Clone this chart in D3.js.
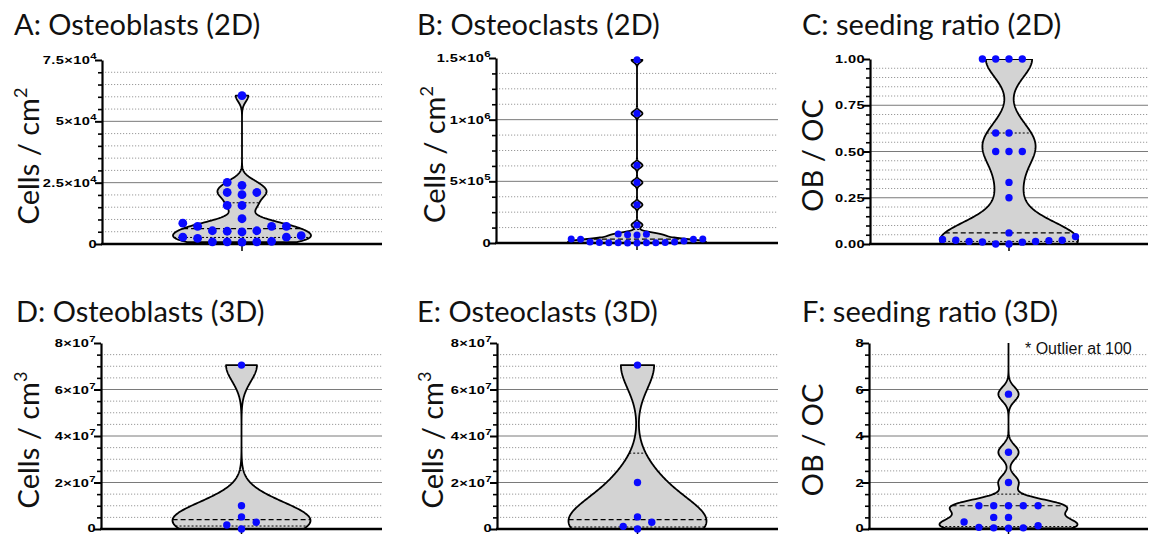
<!DOCTYPE html>
<html>
<head>
<meta charset="utf-8">
<script src="https://cdn.jsdelivr.net/npm/d3@7"></script>
<style>
  body { margin: 0; background: #fff; }
  svg { display: block; }
</style>
</head>
<body>
<svg id="chart" width="1155" height="534"></svg>
<script>
// ---- values ----
const obs2D = [800, 900, 900, 900, 1100, 2300, 2800, 2800, 3400, 4900, 5200, 5400, 5400,
  7200, 7200, 7200, 8500, 10300, 15700, 15700, 20100, 21000, 21000, 23900, 25100, 60500];
const ocs2D = [500, 1000, 1500, 2000, 2500, 3000, 3500, 4000, 8000, 9000, 16000, 30000, 31000,
  32000, 33000, 65000, 66000, 70000, 73000, 146000, 310000, 490000, 630000, 1050000, 1485000];
const ratio2D = [0, 0, 0.01, 0.011, 0.014, 0.014, 0.018, 0.02, 0.02, 0.025, 0.04, 0.06,
  0.25, 0.333, 0.5, 0.5, 0.5, 0.6, 0.6, 1, 1, 1, 1];
const obs3D = [0, 1.7e6, 2.9e6, 5.2e6, 1.0e7, 7.05e7];
const ocs3D = [0, 1.15e6, 2.9e6, 5.2e6, 2.0e7, 7.05e7];
const ratio3D = [0.03, 0.05, 0.05, 0.07, 0.14, 0.3, 0.5, 0.5, 1, 1, 1, 1, 1, 2, 3.3, 5.8, 100];

const titles = ["A: Osteoblasts (2D)", "B: Osteoclasts (2D)", "C: seeding ratio (2D)",
  "D: Osteoblasts (3D)", "E: Osteoclasts (3D)", "F: seeding ratio (3D)"];
const yTitles = [["Cells / cm", "2"], ["Cells / cm", "2"], ["OB / OC", ""],
  ["Cells / cm", "3"], ["Cells / cm", "3"], ["OB / OC", ""]];

const ticksA = [0, 25000, 50000, 75000];
const tickLabelsA = ["0", "2.5×10^4", "5×10^4", "7.5×10^4"];
const ticksB = [0, 500000, 1000000, 1500000];
const tickLabelsB = ["0", "5×10^5", "1×10^6", "1.5×10^6"];
const ticksC = [0, 0.25, 0.5, 0.75, 1];
const tickLabelsC = ["0.00", "0.25", "0.50", "0.75", "1.00"];
const ticks3D = [0, 2e7, 4e7, 6e7, 8e7];
const tickLabels3D = ["0", "2×10^7", "4×10^7", "6×10^7", "8×10^7"];
const ticksF = [0, 2, 4, 6, 8];
const tickLabelsF = ["0", "2", "4", "6", "8"];
const minorSteps = [5000, 125000, 0.05, 5e6, 5e6, 0.5];
const bandwidths = [2500, 20000, 0.1, 7e6, 1e7, 0.3];
const outlierNote = "* Outlier at 100";

// ---- layout ----
const FONT_T = "Lato, 'Open Sans', sans-serif";
const FONT_N = "'Liberation Sans', Arial, sans-serif";
const HALF_W = 69;
const LABEL_STRETCH = 1.33;

const panels = [
  {data: obs2D, ticks: ticksA, labels: tickLabelsA, left: 102, right: 382, top: 60, bottom: 244, tx: 14, ty: 35, lx: 39, r: 4.4, slot: 14.8},
  {data: ocs2D, ticks: ticksB, labels: tickLabelsB, left: 496, right: 778, top: 58, bottom: 243, tx: 417, ty: 35, lx: 445, r: 3.5, slot: 9.4},
  {data: ratio2D, ticks: ticksC, labels: tickLabelsC, left: 870, right: 1148, top: 59, bottom: 244, tx: 802, ty: 35, lx: 823, r: 3.7, slot: 13.3},
  {data: obs3D, ticks: ticks3D, labels: tickLabels3D, left: 101, right: 382, top: 343, bottom: 529, tx: 16, ty: 322, lx: 39, r: 3.7, slot: 14.7},
  {data: ocs3D, ticks: ticks3D, labels: tickLabels3D, left: 497, right: 778, top: 343, bottom: 529, tx: 417, ty: 322, lx: 443, r: 3.7, slot: 14.3},
  {data: ratio3D, ticks: ticksF, labels: tickLabelsF, left: 869, right: 1148, top: 343, bottom: 529, tx: 802, ty: 322, lx: 823, r: 3.7, slot: 14.8}
];

const svg = d3.select("#chart");

// prism style quartiles: position p*(n+1)
function quart(sorted, p) {
  const pos = p * (sorted.length + 1) - 1;
  const lo = Math.max(0, Math.min(sorted.length - 1, Math.floor(pos)));
  const hi = Math.min(sorted.length - 1, lo + 1);
  const f = Math.max(0, Math.min(1, pos - lo));
  return sorted[lo] + f * (sorted[hi] - sorted[lo]);
}

function density(values, bw) {
  return t => d3.sum(values, v => Math.exp(-0.5 * ((t - v) / bw) ** 2));
}

function writeLabel(sel, str) {
  const parts = str.split("^");
  sel.text(null);
  sel.append("tspan").text(parts[0]);
  if (parts[1]) sel.append("tspan").attr("dy", -5).attr("font-size", 8.5).text(parts[1]);
}

panels.forEach((p, idx) => {
  const g = svg.append("g");
  const sorted = p.data.slice().sort((a, b) => a - b);
  const maxV = p.ticks[p.ticks.length - 1];
  const y = d3.scaleLinear().domain([0, maxV]).range([p.bottom, p.top]);
  const x = d3.scaleBand().domain(["group"]).range([p.left, p.right]);
  const cx = x("group") + x.bandwidth() / 2;

  // minor values
  const step = minorSteps[idx];
  const nMinor = Math.round(maxV / step);
  const minors = d3.range(1, nMinor).map(i => +(i * step).toPrecision(10))
    .filter(v => !p.ticks.some(t => Math.abs(t - v) < step / 100));

  // grid
  g.append("g").selectAll("line").data(minors).join("line")
    .attr("x1", p.left).attr("x2", p.right)
    .attr("y1", d => y(d)).attr("y2", d => y(d))
    .attr("stroke", "#9a9a9a").attr("stroke-width", 1).attr("stroke-dasharray", "1.2,1.8");
  g.append("g").selectAll("line").data(p.ticks.filter(t => t > 0 && t < maxV)).join("line")
    .attr("x1", p.left).attr("x2", p.right)
    .attr("y1", d => y(d)).attr("y2", d => y(d))
    .attr("stroke", "#7a7a7a").attr("stroke-width", 1);

  // violin
  const bw = bandwidths[idx];
  const dens = density(p.data, bw);
  const lo = sorted[0], hi = sorted[sorted.length - 1];
  const st = Math.min(bw / 10, (hi - lo) / 200);
  const grid = d3.range(lo, hi, st).concat([hi]).map(t => [t, dens(t)]);
  const w = d3.scaleLinear().domain([0, d3.max(grid, d => d[1])]).range([0, HALF_W]);

  const clipId = "clip" + idx;
  g.append("clipPath").attr("id", clipId).append("rect")
    .attr("x", p.left).attr("y", p.top).attr("width", p.right - p.left).attr("height", p.bottom - p.top + 4);

  const area = d3.area()
    .x0(d => cx - w(d[1])).x1(d => cx + w(d[1]))
    .y(d => y(d[0]));
  const vg = g.append("g").attr("clip-path", `url(#${clipId})`);
  vg.append("path").attr("d", area(grid))
    .attr("fill", "#d3d3d3").attr("stroke", "#000").attr("stroke-width", 1.8)
    .attr("stroke-linejoin", "round");

  [[0.25, "2,2"], [0.5, "5,3"], [0.75, "2,2"]].forEach(([q, dash]) => {
    const v = quart(sorted, q);
    const hw = w(dens(v));
    vg.append("line")
      .attr("x1", cx - hw).attr("x2", cx + hw).attr("y1", y(v)).attr("y2", y(v))
      .attr("stroke", "#000").attr("stroke-width", q === 0.5 ? 1.2 : 1)
      .attr("stroke-dasharray", dash);
  });

  // axes
  const yAxis = d3.axisLeft(y).tickValues(p.ticks).tickSize(7).tickSizeOuter(0).tickPadding(2);
  const ag = g.append("g").attr("transform", `translate(${p.left},0)`).call(yAxis);
  ag.select(".domain").attr("stroke-width", 2.2);
  ag.selectAll(".tick line").attr("stroke-width", 2);
  ag.selectAll(".tick text")
    .attr("font-family", FONT_N).attr("font-weight", "bold").attr("font-size", 11)
    .attr("letter-spacing", 0.3).attr("fill", "#000")
    .attr("x", -5 / LABEL_STRETCH)
    .attr("dy", d => (p.bottom > 500 && d === 0) ? "0.22em" : "0.32em")
    .attr("transform", `scale(${LABEL_STRETCH},1)`)
    .each(function(d, i) { writeLabel(d3.select(this), p.labels[i]); });

  const mg = g.append("g").attr("transform", `translate(${p.left},0)`)
    .call(d3.axisLeft(y).tickValues(minors).tickSize(4).tickFormat(""));
  mg.select(".domain").remove();
  mg.selectAll(".tick line").attr("stroke-width", 1.6);

  g.append("line").attr("x1", p.left - 1).attr("x2", p.right).attr("y1", p.bottom).attr("y2", p.bottom)
    .attr("stroke", "#000").attr("stroke-width", 2.4);
  g.append("line").attr("x1", cx).attr("x2", cx).attr("y1", p.bottom).attr("y2", p.bottom + 7)
    .attr("stroke", "#000").attr("stroke-width", 1.5);

  // points: greedy swarm in slots
  const placed = [];
  const pts = [];
  sorted.filter(v => v <= maxV).forEach(v => {
    const py = y(v);
    for (let k = 0; k < 60; k++) {
      const s = k === 0 ? 0 : (k % 2 ? -Math.ceil(k / 2) : k / 2);
      if (!placed.some(q => q.s === s && Math.abs(q.py - py) < 2 * p.r + 0.2)) {
        placed.push({s, py});
        pts.push({v, s});
        break;
      }
    }
  });
  g.append("g").selectAll("circle").data(pts).join("circle")
    .attr("cx", d => cx + d.s * p.slot).attr("cy", d => y(d.v)).attr("r", p.r)
    .attr("fill", "#0a0aff");

  // titles
  g.append("text").attr("x", p.tx).attr("y", p.ty)
    .attr("font-family", FONT_T).attr("font-size", 29).attr("fill", "#111")
    .text(titles[idx]);

  const yt = g.append("text")
    .attr("transform", `translate(${p.lx},${(p.top + p.bottom) / 2 + 4}) rotate(-90)`)
    .attr("text-anchor", "middle")
    .attr("font-family", FONT_T).attr("font-size", 29).attr("fill", "#111");
  yt.append("tspan").text(yTitles[idx][0]);
  if (yTitles[idx][1]) yt.append("tspan").attr("dy", -12).attr("font-size", 18).text(yTitles[idx][1]);

  if (idx === 5) {
    g.append("text").attr("x", 1025).attr("y", 354)
      .attr("font-family", FONT_N).attr("font-size", 16).attr("fill", "#111")
      .text(outlierNote);
  }
});
</script>
</body>
</html>
